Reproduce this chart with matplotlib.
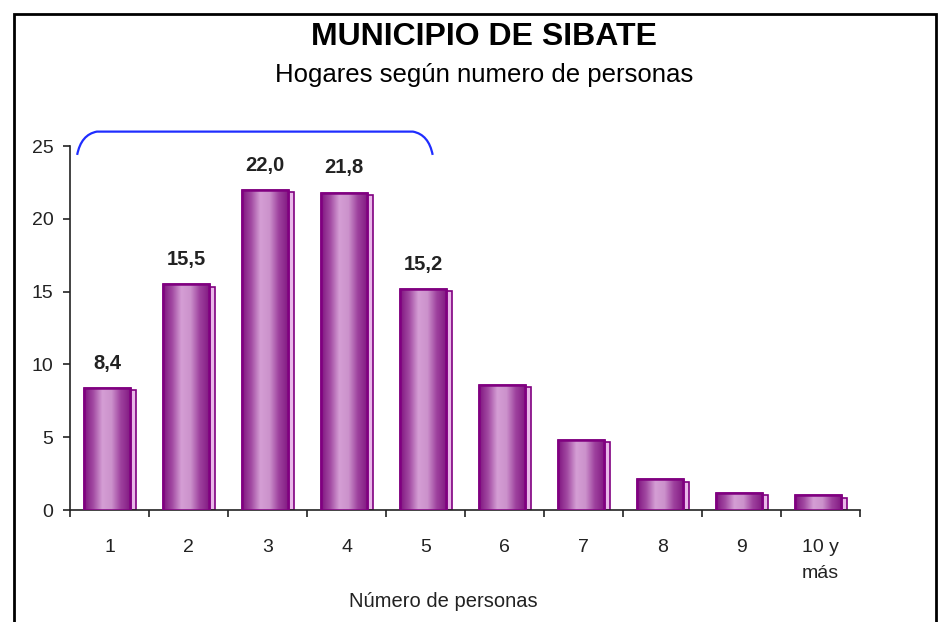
import numpy as np
import matplotlib
matplotlib.use("Agg")
import matplotlib.pyplot as plt
from matplotlib.colors import LinearSegmentedColormap
from matplotlib.patches import Rectangle, PathPatch
from matplotlib.path import Path

plt.rcParams["font.family"] = ["Liberation Sans", "DejaVu Sans"]

# =====================================
# Data
# =====================================
categories = ["1", "2", "3", "4", "5", "6", "7", "8", "9", "10 y\nmás"]
values = [8.4, 15.5, 22.0, 21.8, 15.2, 8.6, 4.8, 2.1, 1.2, 1.0]
labelled = [0, 1, 2, 3, 4]  # bars with a value label (and under the bracket)
y_ticks = [0, 5, 10, 15, 20, 25]

title = "MUNICIPIO DE SIBATE"
subtitle = "Hogares según numero de personas"
x_label = "Número de personas"

# =====================================
# Figure
# =====================================
fig = plt.figure(figsize=(9.4, 6.22), dpi=100)
ax = fig.add_axes([0.0745, 0.18, 0.8405, 0.585])

x = np.arange(len(values))
width = 0.58
edge = "#800080"

# depth strip behind each bar (fake 3D side)
ax.bar(x + 0.04, np.array(values) - 0.15, width, color="#e9b8e9",
       edgecolor=edge, linewidth=1.2, zorder=2)

bars = ax.bar(x - 0.03, values, width, color="#c080c0", edgecolor=edge,
              linewidth=1.8, zorder=3)

# cylinder-like horizontal shading
cmap = LinearSegmentedColormap.from_list(
    "purple", ["#801580", "#a24aa2", "#d49ed4", "#cc92cc", "#9e429e", "#841c84"])
grad = np.linspace(0, 1, 256).reshape(1, -1)
for bar in bars:
    im = ax.imshow(grad, cmap=cmap, aspect="auto", zorder=3.5,
                   extent=(bar.get_x(), bar.get_x() + bar.get_width(),
                           0, bar.get_height()))
    im.set_clip_path(bar)
    outline = Rectangle((bar.get_x(), 0), bar.get_width(), bar.get_height(),
                        fill=False, edgecolor=edge, linewidth=1.8, zorder=4)
    ax.add_patch(outline)

for i in labelled:
    ax.annotate(f"{values[i]:.1f}".replace(".", ","), (x[i] - 0.03, values[i]),
                xytext=(0, 11), textcoords="offset points",
                ha="center", va="bottom", fontsize=14.5, fontweight="bold",
                color="#222222")

# blue bracket over the labelled bars
x0 = x[labelled[0]] - 0.41
x1 = x[labelled[-1]] + 0.09
ytop = 26.0
ylow = 24.4
verts = [(x0, ylow), (x0 + 0.05, ytop - 0.2), (x0 + 0.25, ytop),
         (x1 - 0.25, ytop),
         (x1 - 0.05, ytop - 0.2), (x1, ylow)]
codes = [Path.MOVETO, Path.CURVE3, Path.CURVE3, Path.LINETO,
         Path.CURVE3, Path.CURVE3]
ax.add_patch(PathPatch(Path(verts, codes), fill=False, edgecolor="#1f2dff",
                       linewidth=1.6, clip_on=False, zorder=5))

# =====================================
# Axes styling
# =====================================
ax.set_xlim(-0.5, len(values) - 0.5)
ax.set_ylim(0, 25)
ax.set_yticks(y_ticks)
ax.tick_params(axis="y", labelsize=14, length=5, width=1.2, pad=7,
               colors="#222222")
ax.set_xticks(x)
ax.set_xticklabels(categories, fontsize=14, color="#222222",
                   va="top", linespacing=1.65)
ax.tick_params(axis="x", length=0, pad=21)
ax.set_xticks(np.arange(len(values) + 1) - 0.5, minor=True)
ax.tick_params(axis="x", which="minor", length=5, width=1.2, color="#222222")
ax.set_xlabel(x_label, fontsize=14.5, color="#222222")
ax.xaxis.set_label_coords(0.472, -0.225)

for side in ["top", "right"]:
    ax.spines[side].set_visible(False)
for side in ["left", "bottom"]:
    ax.spines[side].set_linewidth(1.2)
    ax.spines[side].set_color("#222222")

fig.text(0.515, 0.940, title, ha="center", va="center", fontsize=23,
         fontweight="bold")
fig.text(0.515, 0.880, subtitle, ha="center", va="center", fontsize=18.5)

# frame around the picture (bottom edge falls outside)
fig.add_artist(Rectangle((14 / 940, -0.1), 922 / 940, 1.1 - 14 / 622,
                         transform=fig.transFigure, fill=False,
                         edgecolor="black", linewidth=2))

fig.savefig("out.png", dpi=100)
